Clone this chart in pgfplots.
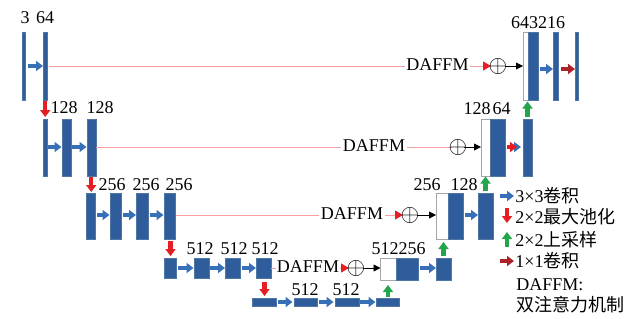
\documentclass[border=0pt]{standalone}
\usepackage{pgfplots}
\pgfplotsset{compat=1.18}
\usetikzlibrary{arrows.meta}
\usepackage{fontspec}
\setmainfont{Liberation Serif}
\newfontfamily\cjk{Noto Sans CJK SC}
\definecolor{bbar}{RGB}{47,93,155}
\definecolor{bedge}{RGB}{80,118,165}
\definecolor{barrow}{RGB}{55,112,182}
\definecolor{rarrow}{RGB}{230,30,35}
\definecolor{garrow}{RGB}{35,165,75}
\definecolor{darrow}{RGB}{170,35,40}
\definecolor{pinkl}{RGB}{245,160,160}
\newcommand{\blk}[4]{\addplot[fill=bbar,draw=bedge,line width=0.3pt] coordinates {(#1,#2) (#3,#2) (#3,#4) (#1,#4) (#1,#2)};}
\newcommand{\wht}[4]{\addplot[fill=white,draw=gray!70,line width=0.3pt] coordinates {(#1,#2) (#3,#2) (#3,#4) (#1,#4) (#1,#2)};}
\newcommand{\harr}[4][barrow]{\addplot[draw=#1,line width=2pt,-{Triangle[width=5pt,length=3.5pt]}] coordinates {(#2,#4) (#3,#4)};}
\newcommand{\varr}[4][rarrow]{\addplot[draw=#1,line width=2.2pt,-{Triangle[width=5pt,length=3.5pt]}] coordinates {(#2,#3) (#2,#4)};}
\newcommand{\pline}[3]{\addplot[pinkl,line width=0.5pt] coordinates {(#1,#3) (#2,#3)};}
\newcommand{\parr}[3]{\addplot[pinkl,line width=0.5pt,-{Triangle[width=4.5pt,length=4pt,color=rarrow]}] coordinates {(#1,#3) (#2,#3)};}
\newcommand{\karr}[3]{\addplot[black,line width=0.4pt,-{Triangle[width=3.5pt,length=3.5pt]}] coordinates {(#1,#3) (#2,#3)};}
\begin{document}
\begin{tikzpicture}[lbl/.style={inner sep=0pt,font=\fontsize{9}{10}\selectfont},
  oplus/.style={inner sep=0pt,font=\fontsize{12}{12}\selectfont}]
\begin{axis}[width=318pt,height=159pt,scale only axis,xmin=0,xmax=636,ymin=0,ymax=318,
  y dir=reverse,hide axis,clip=false]
\path (axis cs:0,0) rectangle (axis cs:636,318);
% ---------- level 1 ----------
\blk{22.5}{32}{25}{100}
\blk{43}{32}{47.5}{100}
\harr{28}{43}{66}
\pline{49}{405}{66}
\parr{470}{491}{66}
\karr{505}{523}{66}
\wht{523}{32}{528}{100}
\blk{528}{32}{538}{100}
\harr{540}{553}{69}
\blk{553}{32}{558}{100}
\harr[darrow]{561}{575}{69}
\blk{575.5}{32}{578}{100}
\node[lbl] at (axis cs:25,17.5) {3};
\node[lbl] at (axis cs:45,17.5) {64};
\node[lbl] at (axis cs:538,22.5) {643216};
\node[lbl] at (axis cs:437.5,65) {DAFFM};
\node[oplus] at (axis cs:498,66) {$\oplus$};
% ---------- level 2 ----------
\varr{45.2}{101}{117}
\blk{43}{119}{47.5}{176}
\blk{62}{119}{71}{176}
\blk{87}{119}{96}{176}
\harr{48}{61.5}{147}
\harr{72}{86.5}{147}
\pline{96}{341}{147}
\pline{407}{452}{147}
\karr{464}{481}{147}
\wht{481}{119}{490}{176}
\blk{490}{119}{505}{176}
\harr{507}{521}{147}
\harr[rarrow]{507}{517}{147}
\blk{523}{119}{532}{176}
\varr[garrow]{527.5}{117}{101.5}
\node[lbl] at (axis cs:64,107.5) {128};
\node[lbl] at (axis cs:100,107.5) {128};
\node[lbl] at (axis cs:487,109) {128\hspace{1pt}64};
\node[lbl] at (axis cs:374,146) {DAFFM};
\node[oplus] at (axis cs:458,147) {$\oplus$};
% ---------- level 3 ----------
\varr{91.2}{177}{192}
\blk{86.7}{193}{95.7}{239}
\blk{110}{193}{121.7}{239}
\blk{136.7}{193}{148.3}{239}
\blk{164}{193}{175.7}{239}
\harr{97}{109.5}{215}
\harr{122.5}{136}{215}
\harr{149.5}{163.5}{215}
\pline{176}{319}{215}
\parr{385}{403}{215}
\karr{417}{436}{215}
\wht{436}{193}{448}{239}
\blk{448}{193}{463}{239}
\harr{465}{478}{215}
\blk{478}{193}{493}{239}
\varr[garrow]{485.5}{191}{176.5}
\node[lbl] at (axis cs:112,184.5) {256};
\node[lbl] at (axis cs:146,184.5) {256};
\node[lbl] at (axis cs:179,184.5) {256};
\node[lbl] at (axis cs:427,184.5) {256};
\node[lbl] at (axis cs:464,184.5) {128};
\node[lbl] at (axis cs:352,213.5) {DAFFM};
\node[oplus] at (axis cs:410,215) {$\oplus$};
% ---------- level 4 ----------
\varr{170.5}{241}{256}
\blk{164}{258}{176.7}{278}
\blk{194}{258}{209}{278}
\blk{225.7}{258}{240}{278}
\blk{256.7}{258}{271}{278}
\harr{178}{193.5}{268}
\harr{210}{225}{268}
\harr{241.5}{256}{268}
\pline{271}{276}{268}
\parr{340}{349}{268}
\karr{363}{380.5}{268}
\wht{380.7}{258}{396}{280}
\blk{396}{258}{418}{280}
\harr{420}{436}{268}
\blk{436}{258}{451}{280}
\varr[garrow]{443.5}{256}{242}
\node[lbl] at (axis cs:200,249) {512};
\node[lbl] at (axis cs:234,249) {512};
\node[lbl] at (axis cs:265,249) {512};
\node[lbl] at (axis cs:398.5,248.5) {512256};
\node[lbl] at (axis cs:308,267) {DAFFM};
\node[oplus] at (axis cs:356,268) {$\oplus$};
% ---------- level 5 ----------
\varr{264.5}{282}{296}
\blk{252.7}{298}{276}{306}
\blk{294}{298}{317}{306}
\blk{335}{298}{359}{306}
\blk{376.7}{298}{399}{306}
\harr{277.5}{292.5}{302}
\harr{318.5}{333.5}{302}
\harr{360}{375.5}{302}
\varr[garrow]{388}{297}{285}
\node[lbl] at (axis cs:305,290) {512};
\node[lbl] at (axis cs:346,290) {512};
% ---------- legend ----------
\harr{500}{514}{196}
\varr{507}{208}{223}
\varr[garrow]{507}{247}{232}
\harr[darrow]{500}{514}{261}
\node[lbl,anchor=west] at (axis cs:515,196) {3×3{\cjk 卷积}};
\node[lbl,anchor=west] at (axis cs:515,217) {2×2{\cjk 最大池化}};
\node[lbl,anchor=west] at (axis cs:515,240) {2×2{\cjk 上采样}};
\node[lbl,anchor=west] at (axis cs:515,261) {1×1{\cjk 卷积}};
\node[lbl,anchor=west] at (axis cs:516,285) {DAFFM:};
\node[lbl,anchor=west] at (axis cs:516,305) {{\cjk 双注意力机制}};
\end{axis}
\end{tikzpicture}
\end{document}
